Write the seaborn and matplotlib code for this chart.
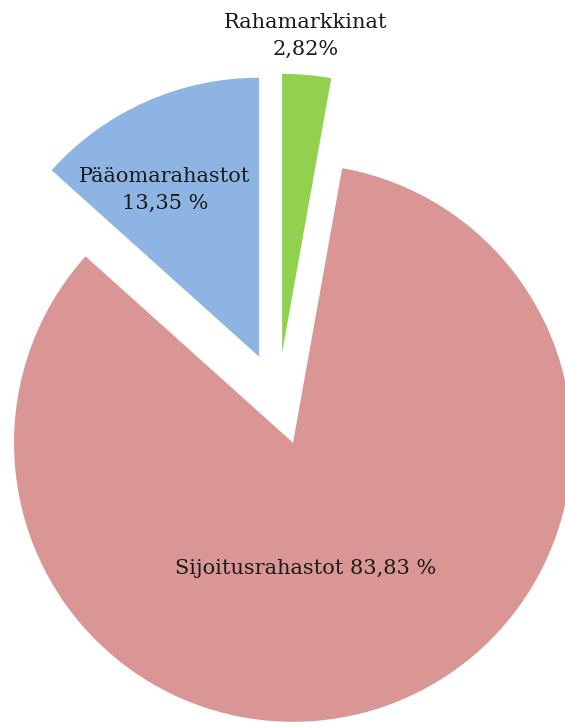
import numpy as np
import matplotlib
matplotlib.use("Agg")
import matplotlib.pyplot as plt
import seaborn as sns

# data (order = counter-clockwise from 12 o'clock)
labels = ["Pääomarahastot", "Sijoitusrahastot", "Rahamarkkinat"]
shares = [13.35, 83.83, 2.82]
share_text = ["13,35 %", "83,83 %", "2,82%"]
colors = ["#8DB4E2", "#D99694", "#92D050"]
explode = [0.166, 0.166, 0.166]

sns.set_theme(style="white")
plt.rcParams["font.family"] = ["DejaVu Serif"]

fig = plt.figure(figsize=(5.65, 7.22), dpi=100)
ax = fig.add_axes([0, 0, 1, 1])

ax.pie(shares, colors=colors, explode=explode, startangle=90,
       counterclock=True, radius=1, wedgeprops=dict(linewidth=0))

# 279 px per unit, pie centre at pixel (278, 399)
ax.set_xlim(-278 / 279, (565 - 278) / 279)
ax.set_ylim(-(722 - 399) / 279, 399 / 279)
ax.set_aspect("equal")
ax.axis("off")

fs = 15
tc = "#1a1a1a"
ax.text(0.100, 1.330, labels[2], ha="center", va="baseline", fontsize=fs, color=tc)
ax.text(0.100, 1.233, share_text[2], ha="center", va="baseline", fontsize=fs, color=tc)
ax.text(-0.405, 0.778, labels[0], ha="center", va="baseline", fontsize=fs, color=tc)
ax.text(-0.405, 0.681, share_text[0], ha="center", va="baseline", fontsize=fs, color=tc)
ax.text(0.100, -0.627, labels[1] + " " + share_text[1], ha="center", va="baseline",
        fontsize=fs, color=tc)

fig.savefig("out.png", dpi=100, facecolor="white")
